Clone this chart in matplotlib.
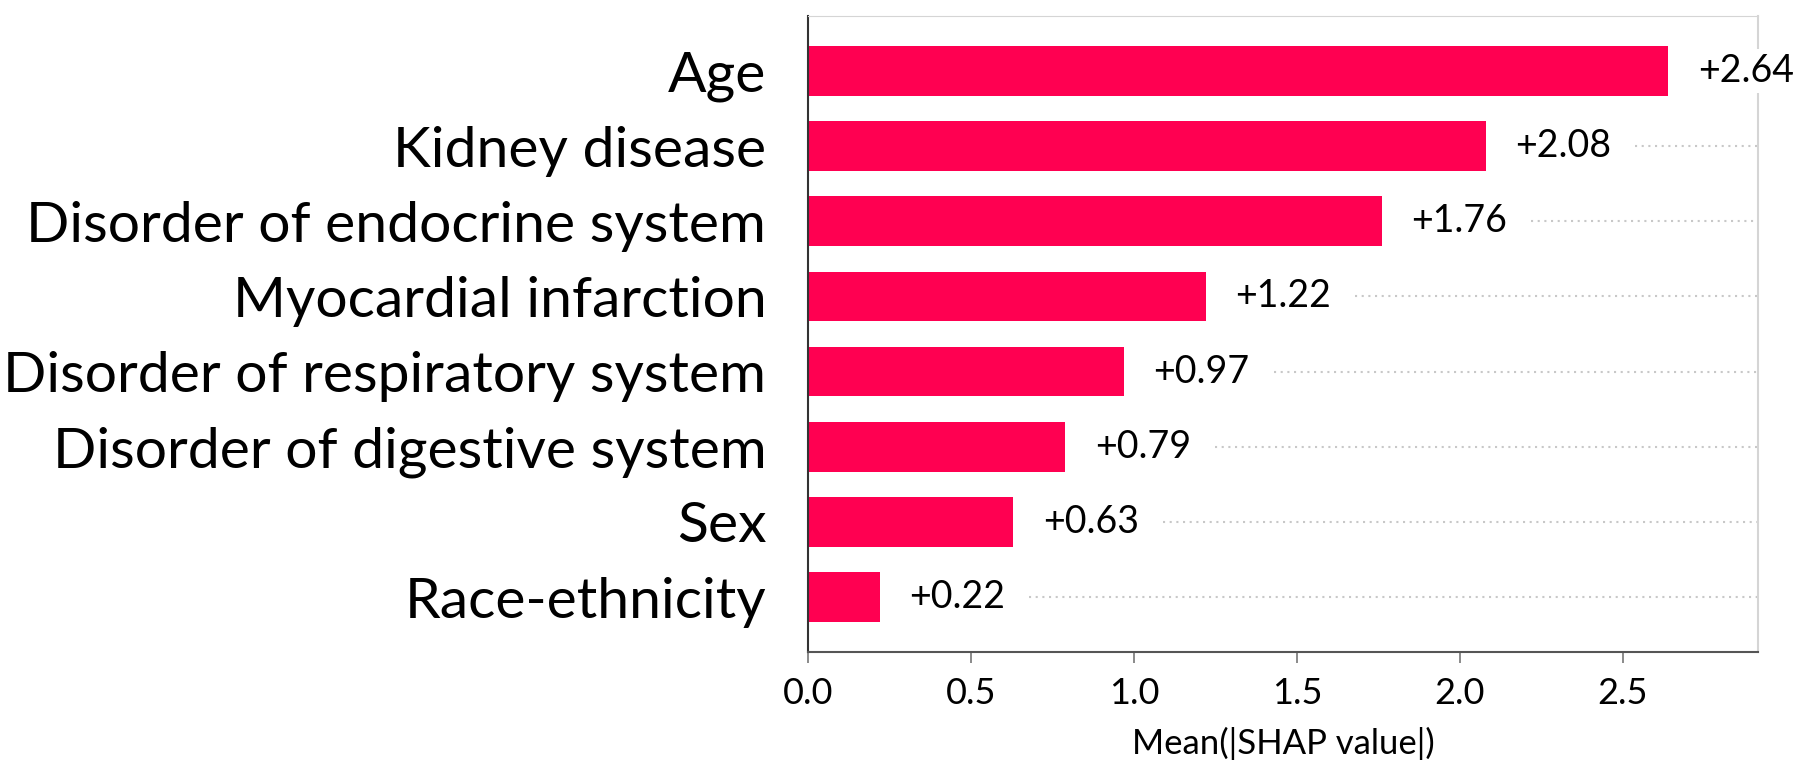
import matplotlib
matplotlib.use("Agg")
import matplotlib.pyplot as plt
import numpy as np

# data
features = ['Age', 'Kidney disease', 'Disorder of endocrine system',
            'Myocardial infarction', 'Disorder of respiratory system',
            'Disorder of digestive system', 'Sex', 'Race-ethnicity']
shap_vals = [2.64, 2.08, 1.76, 1.22, 0.97, 0.79, 0.63, 0.22]
xticks = [0.0, 0.5, 1.0, 1.5, 2.0, 2.5]

plt.rcParams['font.family'] = ['Lato', 'DejaVu Sans']

W, H = 1800, 784
fig = plt.figure(figsize=(W / 100, H / 100), dpi=100)
ax = fig.add_axes([808 / W, (H - 652) / H, 950 / W, 636 / H])

n = len(features)
ypos = np.arange(n)[::-1]

ax.barh(ypos, shap_vals, height=0.66, color='#ff0051', zorder=2)

# value labels
labels = []
for y, v in zip(ypos, shap_vals):
    t = ax.text(v + 0.09, y, '+%.2f' % v, va='center', ha='left', fontsize=27,
                color='black', zorder=5, clip_on=False,
                bbox=dict(facecolor='white', edgecolor='none', pad=3))
    labels.append(t)

ax.set_xlim(0, 2.915)
ax.set_ylim(-0.73, n - 1 + 0.73)
ax.set_yticks(ypos)
ax.set_yticklabels(features, fontsize=41)
ax.tick_params(axis='y', length=0, pad=30)

ax.set_xticks(xticks)
ax.set_xticklabels(['%.1f' % t for t in xticks], fontsize=26)
ax.tick_params(axis='x', length=8, width=1.2, color='#777777', pad=10)
ax.set_xlabel('Mean(|SHAP value|)', fontsize=25, labelpad=12)

ax.spines['left'].set_color('#333333')
ax.spines['left'].set_linewidth(1.5)
ax.spines['bottom'].set_color('#555555')
ax.spines['bottom'].set_linewidth(1.5)
ax.spines['top'].set_color('#d5d5d5')
ax.spines['right'].set_color('#d5d5d5')
ax.spines['right'].set_linewidth(1.5)
ax.spines['right'].set_zorder(1)

# dotted row guides start a little after each value label
fig.canvas.draw()
inv = ax.transData.inverted()
xmax = ax.get_xlim()[1]
for t, y in zip(labels, ypos):
    bb = t.get_window_extent()
    x0 = inv.transform((bb.x1 + 24, 0))[0]
    if x0 < xmax:
        ax.plot([x0, xmax], [y, y], color='#c8c8c8', lw=1.5,
                dashes=(1, 2.2), zorder=0, solid_capstyle='butt')

fig.savefig('out.png', dpi=100, facecolor='white')
